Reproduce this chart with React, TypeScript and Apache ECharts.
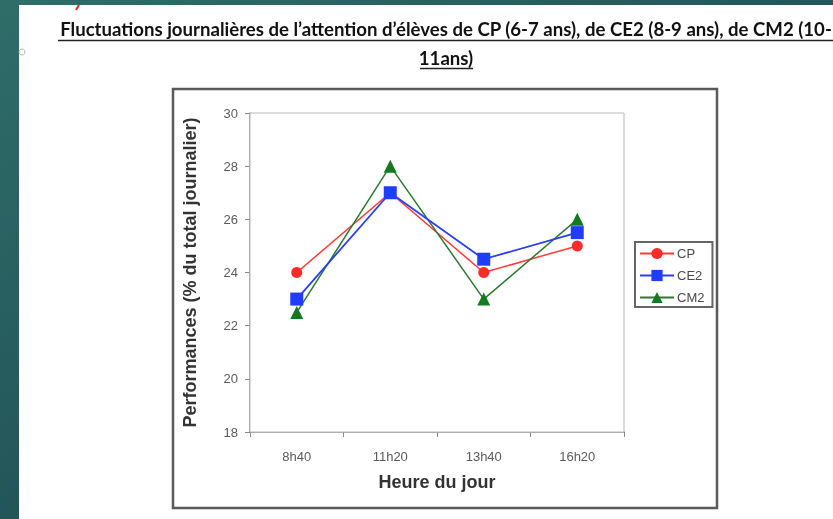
import React, { useEffect, useRef } from "react";
import * as echarts from "echarts";

const categories = ["8h40", "11h20", "13h40", "16h20"];
const seriesNames = ["CP", "CE2", "CM2"];
const cpValues = [24, 27, 24, 25];
const ce2Values = [23, 27, 24.5, 25.5];
const cm2Values = [22.5, 28, 23, 26];
const titleLine1 =
  "Fluctuations journalières de l’attention d’élèves de CP (6-7 ans), de CE2 (8-9 ans), de CM2 (10-";
const titleLine2 = "11ans)";
const yAxisName = "Performances (% du total journalier)";
const xAxisName = "Heure du jour";

export default function App() {
  const ref = useRef<HTMLDivElement>(null);
  useEffect(() => {
    if (!ref.current) return;
    const chart = echarts.init(ref.current, null, { renderer: "svg" });
    const axisFont = "Liberation Sans, Arial, sans-serif";
    const titleFont = "bold 18.6px Lato, 'Open Sans', sans-serif";
    chart.setOption({
      animation: false,
      backgroundColor: "transparent",
      graphic: [
        {
          type: "rect",
          z: -10,
          shape: { x: 0, y: 0, width: 833, height: 519 },
          style: {
            fill: new echarts.graphic.LinearGradient(0, 0, 1, 1, [
              { offset: 0, color: "#2f6d69" },
              { offset: 1, color: "#173e49" },
            ]),
          },
        },
        {
          type: "rect",
          z: -9,
          shape: { x: 19, y: 5, width: 814, height: 514 },
          style: { fill: "#ffffff" },
        },
        {
          type: "circle",
          z: -8,
          shape: { cx: 22, cy: 52, r: 3 },
          style: { fill: "none", stroke: "#a8b0b0", lineWidth: 1 },
        },
        {
          type: "line",
          z: -8,
          shape: { x1: 79, y1: 5, x2: 76, y2: 10 },
          style: { stroke: "#e02020", lineWidth: 2 },
        },
        {
          type: "text",
          x: 446,
          y: 29,
          style: {
            text: titleLine1,
            font: titleFont,
            fill: "#111111",
            align: "center",
            verticalAlign: "middle",
          },
        },
        {
          type: "line",
          shape: { x1: 58, y1: 40.5, x2: 833, y2: 40.5 },
          style: { stroke: "#222222", lineWidth: 1.5 },
        },
        {
          type: "text",
          x: 446,
          y: 58,
          style: {
            text: titleLine2,
            font: titleFont,
            fill: "#111111",
            align: "center",
            verticalAlign: "middle",
          },
        },
        {
          type: "line",
          shape: { x1: 420, y1: 68.5, x2: 473, y2: 68.5 },
          style: { stroke: "#222222", lineWidth: 1.5 },
        },
        {
          type: "rect",
          z: -5,
          shape: { x: 173, y: 89, width: 544, height: 419 },
          style: { fill: "#ffffff", stroke: "#5a5a5a", lineWidth: 2.5 },
        },
      ],
      grid: {
        left: 250,
        top: 113,
        width: 374,
        height: 319,
        show: true,
        borderColor: "#b8b8b8",
        borderWidth: 1,
        backgroundColor: "#ffffff",
        z: 1,
      },
      legend: {
        left: 635,
        top: 242,
        orient: "vertical",
        itemWidth: 34,
        itemHeight: 14,
        itemGap: 9,
        padding: [5, 8, 3, 4],
        borderColor: "#666666",
        borderWidth: 2,
        data: seriesNames,
        textStyle: { fontFamily: axisFont, fontSize: 13, color: "#4a4a4a", padding: [0, 0, 0, -2] },
      },
      xAxis: {
        type: "category",
        data: categories,
        boundaryGap: true,
        axisLine: { lineStyle: { color: "#888888", width: 1.5 } },
        axisTick: { show: true, length: 5, lineStyle: { color: "#888888" } },
        axisLabel: { fontFamily: axisFont, fontSize: 13, color: "#5a5a5a", margin: 18 },
        name: xAxisName,
        nameLocation: "middle",
        nameGap: 41,
        nameTextStyle: { fontFamily: axisFont, fontSize: 18, fontWeight: "bold", color: "#333333" },
        splitLine: { show: false },
      },
      yAxis: {
        type: "value",
        min: 18,
        max: 30,
        interval: 2,
        axisLine: { show: true, lineStyle: { color: "#888888", width: 1.5 } },
        axisTick: { show: true, length: 5, lineStyle: { color: "#888888" } },
        axisLabel: { fontFamily: axisFont, fontSize: 13, color: "#5a5a5a", margin: 12 },
        splitLine: { show: false },
        name: yAxisName,
        nameLocation: "middle",
        nameGap: 51,
        nameRotate: 90,
        nameTextStyle: { fontFamily: axisFont, fontSize: 18, fontWeight: "bold", color: "#333333" },
      },
      series: [
        {
          name: "CP",
          type: "line",
          data: cpValues,
          symbol: "circle",
          symbolSize: 11,
          itemStyle: { color: "#ff2a2a" },
          lineStyle: { width: 1.5, color: "#ff3a3a" },
          z: 3,
        },
        {
          name: "CE2",
          type: "line",
          data: ce2Values,
          symbol: "rect",
          symbolSize: 13,
          itemStyle: { color: "#1f3cff" },
          lineStyle: { width: 1.8, color: "#2a40f0" },
          z: 4,
        },
        {
          name: "CM2",
          type: "line",
          data: cm2Values,
          symbol: "triangle",
          symbolSize: 13,
          itemStyle: { color: "#147a1e" },
          lineStyle: { width: 1.5, color: "#2a7a30" },
          z: 3,
        },
      ],
    });
    return () => chart.dispose();
  }, []);
  return (
    <div
      ref={ref}
      style={{ position: "fixed", left: 0, top: 0, width: 833, height: 519 }}
    />
  );
}
